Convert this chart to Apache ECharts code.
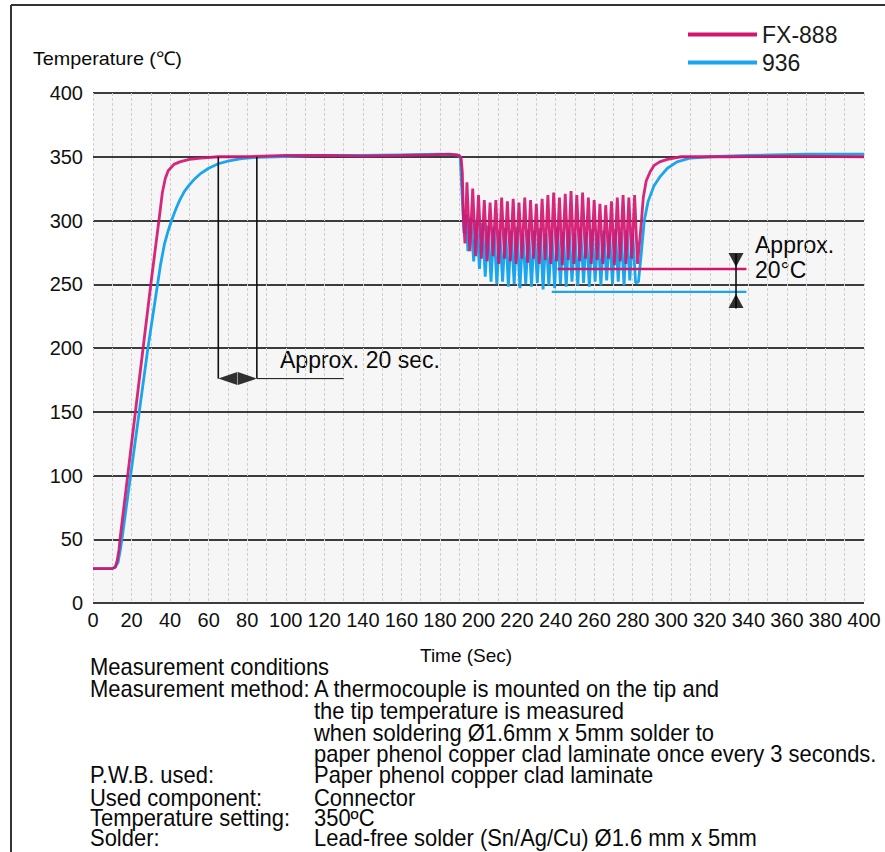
<!DOCTYPE html>
<html>
<head>
<meta charset="utf-8">
<script src="https://cdn.jsdelivr.net/npm/echarts@6/dist/echarts.min.js"></script>
<style>
html,body{margin:0;padding:0;background:#fff;}
#chart{width:885px;height:852px;}
</style>
</head>
<body>
<div id="chart"></div>
<script>
// ---------------- data ----------------
const seriesNames = ['FX-888', '936'];

// FX-888 tip temperature (time s, temperature °C)
const fxTime = [0, 10, 11.5, 12.5, 13.5, 14, 18, 22, 26, 30, 34.2, 36, 37.5, 39, 42, 45, 50, 56, 65, 80, 100, 120, 140, 160, 175, 185, 190, 191,
  191.6, 192.2, 193, 194, 195.5, 197, 198.5, 200, 201.5, 203, 204.5, 206, 207.5, 209, 210.5, 212, 213.5, 215, 216.5, 218, 219.5, 221, 222.5,
  224, 225.5, 227, 228.5, 230, 231.5, 233, 234.5, 236, 237.5, 239, 240.5, 242, 243.5, 245, 246.5, 248, 249.5, 251, 252.5, 254, 255.5,
  257, 258.5, 260, 261.5, 263, 264.5, 266, 267.5, 269, 270.5, 272, 273.5, 275, 276.5, 278, 279.5, 281, 282.5,
  284, 285.5, 287, 289, 291, 294, 298, 305, 330, 360, 400];
const fxTemp = [27, 27, 28, 33, 42, 50, 100, 150, 200, 250, 300, 322, 333, 339, 344, 346, 348, 349, 350, 350, 351, 351, 350.5, 351, 351.5, 352, 351, 349,
  338, 300, 282, 330, 276, 325, 272, 320, 270, 316, 268, 314, 272, 316, 266, 318, 270, 315, 268, 317, 266, 314, 270,
  318, 267, 316, 270, 313, 266, 317, 269, 320, 266, 322, 268, 318, 265, 321, 269, 323, 266, 320, 268, 322, 270,
  318, 266, 316, 269, 313, 266, 312, 270, 315, 265, 318, 268, 320, 266, 318, 270, 320, 266,
  290, 318, 331, 338, 343, 346, 348, 350, 350, 350.5, 350];

// 936 tip temperature (time s, temperature °C)
const ref936Time = [0, 10, 11.5, 13, 14.2, 15, 19.5, 24, 28.5, 33.5, 35, 37, 39, 41, 43, 45, 47.5, 50, 53, 56, 60, 65, 70, 77, 85, 95, 120, 140, 160, 180, 189, 190.5,
  191.5, 192.5, 193.5, 194.5, 196, 197.5, 199, 200.5, 202, 203.5, 205, 206.5, 208, 209.5, 211, 212.5, 214, 215.5, 217, 218.5, 220, 221.5,
  223, 224.5, 226, 227.5, 229, 230.5, 232, 233.5, 235, 236.5, 238, 239.5, 241, 242.5, 244, 245.5, 247, 248.5, 250, 251.5, 253, 254.5,
  256, 257.5, 259, 260.5, 262, 263.5, 265, 266.5, 268, 269.5, 271, 272.5, 274, 275.5, 277, 278.5, 280, 281.5, 283,
  284.5, 286, 288, 291, 294, 298, 303, 310, 320, 340, 370, 400];
const ref936Temp = [27, 27, 28, 32, 42, 50, 100, 150, 200, 250, 265, 281, 292, 301, 309, 316, 323, 328, 333, 337, 341, 344.5, 346.5, 348.5, 349.5, 350, 351, 351, 351.5, 352, 351.5, 350,
  320, 290, 305, 276, 302, 268, 300, 262, 298, 256, 296, 252, 295, 250, 292, 252, 294, 248, 292, 250, 295, 247,
  290, 250, 293, 248, 292, 251, 294, 246, 290, 249, 292, 247, 295, 250, 291, 248, 293, 252, 290, 249, 294, 251,
  291, 248, 293, 252, 290, 249, 292, 253, 290, 250, 293, 252, 291, 249, 292, 253, 290, 251, 252,
  275, 300, 315, 327, 334, 341, 346, 349, 350, 351, 352, 352];

// annotations (data coordinates)
const soakStartEnd = [65, 85];          // "Approx. 20 sec." marker lines
const soakTop = 350, soakBottom = 176;
const soakLeaderEnd = 130;
const dropLevelFX = 262, dropLevel936 = 244;   // "Approx. 20°C" reference levels
const dropLineFXRange = [241, 339];
const dropLine936Range = [238, 339];
const dropArrowTime = 333.6;
const dropArrowTop = 274, dropArrowBottom = 231;

const xTickStep = 10, xLabelStep = 20;
const yTickStep = 50;

// ---------------- chart ----------------
const zip = (a, b) => a.map((v, i) => [v, b[i]]);
const colFX = '#d2156f', col936 = '#1ba5ec';
const fontMain = '"Liberation Sans", Arial, sans-serif';

const chart = echarts.init(document.getElementById('chart'), null, {renderer: 'svg'});

const blackLine = (data, w) => ({
  type: 'line', data: data, symbol: 'none', silent: true, z: 5,
  lineStyle: {color: '#111', width: w}, animation: false, legendHoverLink: false
});

const txt = (x, y, text, size, opts) => Object.assign({
  type: 'text', x: x, y: y, silent: true,
  style: {text: text, font: size + 'px ' + fontMain, fill: '#0a0a0a', align: 'left', verticalAlign: 'middle'}
}, opts || {});

const bottomLines = [
  ['Measurement conditions', '', 667],
  ['Measurement method:', 'A thermocouple is mounted on the tip and', 689],
  ['', 'the tip temperature is measured', 711],
  ['', 'when soldering \u00d81.6mm x 5mm solder to', 733],
  ['', 'paper phenol copper clad laminate once every 3 seconds.', 754],
  ['P.W.B. used:', 'Paper phenol copper clad laminate', 775],
  ['Used component:', 'Connector', 798],
  ['Temperature setting:', '350\u00baC', 818],
  ['Solder:', 'Lead-free solder (Sn/Ag/Cu) \u00d81.6 mm x 5mm', 838]
];
const graphics = [
  {type: 'line', shape: {x1: 11, y1: 5, x2: 885, y2: 5}, style: {stroke: '#333', lineWidth: 2}},
  {type: 'line', shape: {x1: 11, y1: 5, x2: 11, y2: 852}, style: {stroke: '#333', lineWidth: 2}},
  txt(33, 58, 'Temperature (\u2103)', 19, {scaleX: 1.04}),
  txt(420, 655, 'Time (Sec)', 19),
  txt(280, 360, 'Approx. 20 sec.', 23),
  txt(755, 245, 'Approx.', 23),
  txt(755, 270, '20\u00b0C', 23)
];
bottomLines.forEach(l => {
  if (l[0]) graphics.push(txt(90, l[2], l[0], 23, {scaleX: 0.955}));
  if (l[1]) graphics.push(txt(314, l[2], l[1], 23, {scaleX: 0.955}));
});

const option = {
  animation: false,
  backgroundColor: '#fff',
  grid: {left: 93, right: 21, top: 93, bottom: 249, show: true, backgroundColor: '#f6f6f6', borderWidth: 0},
  legend: {
    data: seriesNames, orient: 'vertical', left: 688, top: 23, padding: 0, itemWidth: 69, itemHeight: 4,
    itemGap: 5, icon: 'rect', selectedMode: false,
    textStyle: {fontSize: 23, color: '#1a1a1a', fontFamily: fontMain}
  },
  xAxis: {
    type: 'value', min: 0, max: 400, interval: xTickStep,
    axisLine: {show: false}, axisTick: {show: false},
    axisLabel: {
      fontSize: 20, color: '#111', fontFamily: fontMain, margin: 7,
      formatter: v => (v % xLabelStep === 0 ? String(v) : '')
    },
    splitLine: {show: true, lineStyle: {color: '#cfcfcf', width: 1, type: [3, 2]}}
  },
  yAxis: {
    type: 'value', min: 0, max: 400, interval: yTickStep,
    axisLine: {show: false}, axisTick: {show: false},
    axisLabel: {fontSize: 20, color: '#111', fontFamily: fontMain, margin: 10},
    splitLine: {show: true, lineStyle: {color: '#3c3c3c', width: 2}}
  },
  graphic: graphics,
  series: [
    {
      name: seriesNames[1], type: 'line', data: zip(ref936Time, ref936Temp), symbol: 'none', z: 3,
      lineStyle: {color: col936, width: 2.8}, itemStyle: {color: col936}
    },
    {
      name: seriesNames[0], type: 'line', data: zip(fxTime, fxTemp), symbol: 'none', z: 4,
      lineStyle: {color: colFX, width: 2.8, opacity: 0.92}, itemStyle: {color: colFX}
    },
    // reference levels
    {type: 'line', data: [[dropLineFXRange[0], dropLevelFX], [dropLineFXRange[1], dropLevelFX]], symbol: 'none', silent: true, z: 5,
      lineStyle: {color: colFX, width: 2.4}},
    {type: 'line', data: [[dropLine936Range[0], dropLevel936], [dropLine936Range[1], dropLevel936]], symbol: 'none', silent: true, z: 5,
      lineStyle: {color: col936, width: 2.4}},
    blackLine([[soakStartEnd[0], soakTop], [soakStartEnd[0], soakBottom]], 1.6),
    blackLine([[soakStartEnd[1], soakTop], [soakStartEnd[1], soakBottom]], 1.6),
    blackLine([[soakStartEnd[1], soakBottom], [soakLeaderEnd, soakBottom]], 1),
    blackLine([[dropArrowTime, dropArrowTop], [dropArrowTime, dropArrowBottom]], 1.6),
    {
      type: 'scatter', silent: true, z: 6, itemStyle: {color: '#000'},
      data: [
        {value: [soakStartEnd[0], soakBottom], symbol: 'triangle', symbolSize: [13, 19], symbolRotate: 90, symbolOffset: [9.5, 0]},
        {value: [soakStartEnd[1], soakBottom], symbol: 'triangle', symbolSize: [13, 19], symbolRotate: -90, symbolOffset: [-9.5, 0]},
        {value: [dropArrowTime, dropLevelFX], symbol: 'triangle', symbolSize: [15, 14], symbolRotate: 180, symbolOffset: [0, -9]},
        {value: [dropArrowTime, dropLevel936], symbol: 'triangle', symbolSize: [15, 14], symbolRotate: 0, symbolOffset: [0, 9]}
      ]
    }
  ]
};
chart.setOption(option);
</script>
</body>
</html>
